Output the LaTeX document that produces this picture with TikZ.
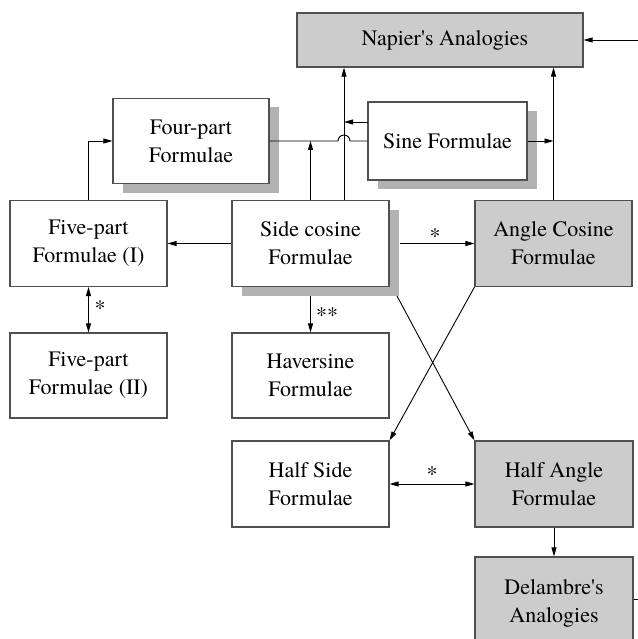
\documentclass[tikz,border=0pt]{standalone}
\usepackage{fontspec}
\setmainfont{TeX Gyre Termes}
\newcommand\sqt{\XeTeXglyph\XeTeXcharglyph"27\relax}
\usetikzlibrary{arrows.meta,shadows}
\begin{document}
\begin{tikzpicture}[x=1pt,y=-1pt,
  box/.style={draw={rgb,255:red,80;green,80;blue,80}, line width=1.1pt, fill=white, inner sep=0pt,
    align=center, minimum width=157pt, minimum height=86pt, font=\fontsize{22}{28}\selectfont},
  greybox/.style={fill=black!20},
  shad/.style={drop shadow={shadow xshift=10pt,shadow yshift=-9pt,fill=black!30,opacity=1,draw=none}},
  conn/.style={line width=0.9pt, draw=black},
  arr/.style={conn,-{Triangle[length=9pt,width=5pt]}},
  darr/.style={conn,{Triangle[length=9pt,width=5pt]}-{Triangle[length=9pt,width=5pt]}},
  lbl/.style={font=\fontsize{22}{28}\selectfont, inner sep=0pt, anchor=base}]
\useasboundingbox (0,0) rectangle (637,639);

% nodes
\node[box,greybox,minimum width=286pt,minimum height=54pt] (napier) at (440,40) {\hspace*{10pt}Napier\sqt s Analogies};
\node[box,shad,minimum width=156pt,minimum height=85pt] (four) at (191,141) {Four-part\\Formulae};
\node[box,shad,minimum width=159pt,minimum height=78pt] (sine) at (447.5,141) {Sine Formulae};
\node[box] (five1) at (88.5,243.5) {Five-part\\Formulae (I)};
\node[box,shad] (side) at (310.5,243.5) {Side cosine\\Formulae};
\node[box,greybox] (angle) at (553.5,243.5) {Angle Cosine\\Formulae};
\node[box,minimum height=85pt] (five2) at (88.5,375.5) {Five-part\\Formulae (II)};
\node[box,minimum height=85pt] (haver) at (310.5,375.5) {Haversine\\Formulae};
\node[box] (halfside) at (310.5,484) {Half Side\\Formulae};
\node[box,greybox,minimum width=158pt] (halfangle) at (554,484) {Half Angle\\Formulae};
\node[box,greybox,minimum width=158pt,minimum height=92pt] (delambre) at (554,603) {Delambre\sqt s\\Analogies};

% helper coordinates
\coordinate (cx) at (344,0);
\coordinate (rin) at (645,40);
\coordinate (dout) at (645,599);
\coordinate (sw) at (368,122);
\coordinate (hop) at (338,141);
\coordinate (sidesh) at (397,296);
\coordinate (hsd) at (310.5,296);
\coordinate (sider) at (400,243.5);

% connectors
\draw[arr] (rin) -- (napier.east);
\draw[arr] (side.north -| cx) -- (napier.south -| cx);
\draw[arr] (angle.north) -- (angle.north |- napier.south);
\draw[conn] (four.east) -- (hop) arc[start angle=180,end angle=0,radius=6pt] -- (sine.west);
\draw[arr] (sw) -- (sw -| cx);
\draw[arr] (sine.east) -- (sine.east -| angle.north);
\draw[arr] (side.north) -- (side.north |- four.east);
\draw[arr] (five1.north) |- (four.west);
\draw[arr] (side.west) -- (five1.east);
\draw[arr] (sider) -- (angle.west);
\draw[darr] (five1.south) -- (five2.north);
\draw[arr] (hsd) -- (haver.north);
\draw[arr] (sidesh) -- (halfangle.north west);
\draw[arr] (angle.south west) -- (halfside.north east);
\draw[darr] (halfside.east) -- (halfangle.west);
\draw[arr] (halfangle.south) -- (delambre.north);
\draw[conn] (delambre.east |- dout) -- (dout);

% labels
\node[lbl] (l1) at (435,243) {*};
\node[lbl] (l2) at (100,315.5) {*};
\node[lbl] (l3) at (327,322) {**};
\node[lbl] (l4) at (432,481) {*};
\end{tikzpicture}
\end{document}
